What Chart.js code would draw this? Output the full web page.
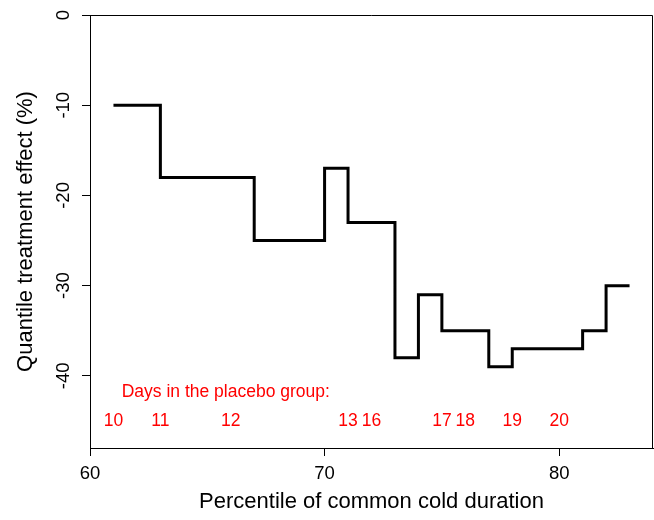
<!DOCTYPE html>
<html>
<head>
<meta charset="utf-8">
<title>Quantile treatment effect</title>
<script src="https://cdn.jsdelivr.net/npm/chart.js@4/dist/chart.umd.min.js"></script>
<style>
html, body { margin: 0; padding: 0; background: #fff; }
#wrap { width: 654px; height: 520px; }
</style>
</head>
<body>
<div id="wrap"><canvas id="qte"></canvas></div>
<script>
// step function: each effect holds from its percentile until the next one
const percentiles = [61, 63, 67, 70, 71, 73, 74, 75, 77, 78, 81, 82, 83]
const effects = [-10, -18, -25, -17, -23, -38, -31, -35, -39, -37, -35, -30, -30]

const xTicks = [60, 70, 80]
const yTicks = [0, -10, -20, -30, -40]

// red notes at the bottom of the plot
const dayCaption = 'Days in the placebo group:'
const dayLabels = ['10', '11', '12', '13', '16', '17', '18', '19', '20']
const dayPercentiles = [61, 63, 66, 71, 72, 75, 76, 78, 80]

const FONT = '"Liberation Sans", Arial, sans-serif'

const extras = {
    id: 'extras',
    afterDraw(chart) {
        const { ctx, chartArea: a, scales: { x, y } } = chart
        ctx.save()
        // top and right side of the box
        ctx.strokeStyle = '#000'
        ctx.lineWidth = 1
        ctx.beginPath()
        ctx.moveTo(a.left, a.top + 0.5)
        ctx.lineTo(a.right - 0.5, a.top + 0.5)
        ctx.lineTo(a.right - 0.5, a.bottom)
        ctx.stroke()

        // y tick labels are turned like in R
        ctx.fillStyle = '#000'
        ctx.font = '18.5px ' + FONT
        ctx.textAlign = 'center'
        ctx.textBaseline = 'middle'
        yTicks.forEach(v => {
            ctx.save()
            ctx.translate(63.5, y.getPixelForValue(v))
            ctx.rotate(-Math.PI / 2)
            ctx.fillText(String(v), 0, 0)
            ctx.restore()
        })

        // days in the placebo group
        ctx.fillStyle = '#ff0000'
        ctx.font = '17.5px ' + FONT
        dayLabels.forEach((d, i) => {
            ctx.fillText(d, x.getPixelForValue(dayPercentiles[i]), y.getPixelForValue(-45))
        })
        ctx.textAlign = 'left'
        ctx.fillText(dayCaption, x.getPixelForValue(61.35), y.getPixelForValue(-41.8))
        ctx.restore()
    }
}

const points = percentiles.map((p, i) => ({ x: p, y: effects[i] }))

new Chart(document.getElementById('qte'), {
    type: 'line',
    data: {
        datasets: [{
            data: points,
            stepped: 'before',
            borderColor: '#000',
            borderWidth: 3,
            pointRadius: 0,
            fill: false
        }]
    },
    options: {
        responsive: true,
        maintainAspectRatio: false,
        animation: false,
        layout: { padding: { top: 15, right: 1, left: 0, bottom: 0 } },
        plugins: { legend: { display: false }, tooltip: { enabled: false } },
        scales: {
            x: {
                type: 'linear',
                min: 60,
                max: 84,
                afterBuildTicks: s => { s.ticks = xTicks.map(v => ({ value: v })) },
                afterFit: s => { s.height = 72 },
                grid: { drawOnChartArea: false, drawTicks: true, tickLength: 8, color: '#000' },
                border: { display: true, color: '#000', width: 1 },
                ticks: { color: '#000', font: { family: FONT, size: 18.5 }, padding: 7, maxRotation: 0 },
                title: {
                    display: true,
                    text: 'Percentile of common cold duration',
                    color: '#000',
                    font: { family: FONT, size: 22 },
                    padding: { top: 0, bottom: 5 }
                }
            },
            y: {
                type: 'linear',
                min: -48,
                max: 0,
                afterBuildTicks: s => { s.ticks = yTicks.map(v => ({ value: v })) },
                afterFit: s => { s.width = 90 },
                grid: { drawOnChartArea: false, drawTicks: true, tickLength: 8, color: '#000' },
                border: { display: true, color: '#000', width: 1 },
                ticks: { display: false },
                title: {
                    display: true,
                    text: 'Quantile treatment effect (%)',
                    color: '#000',
                    font: { family: FONT, size: 22 },
                    padding: { top: 13, bottom: 0 }
                }
            }
        }
    },
    plugins: [extras]
})
</script>
</body>
</html>
